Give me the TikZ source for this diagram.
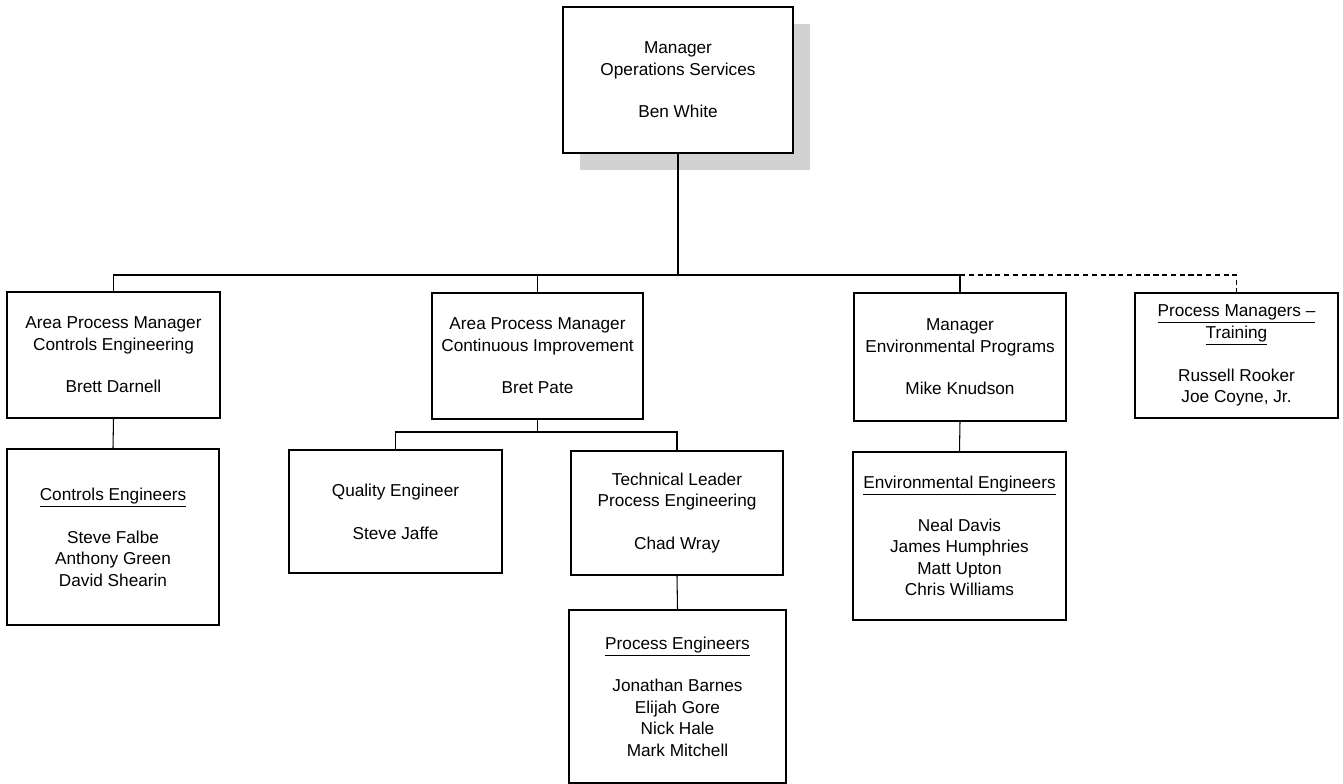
\documentclass[tikz,border=0pt]{standalone}
\usepackage{fontspec}
\setmainfont{Liberation Sans}
\usetikzlibrary{positioning}
\usetikzlibrary{shadows}

\begin{document}
\begin{tikzpicture}[x=0.02cm, y=-0.02cm,
				orgbox/.style 2 args={draw=black, line width=0.9pt, fill=white, align=center, inner sep=0pt,
					minimum width=#1*0.02cm, minimum height=#2*0.02cm, font=\fontsize{9.8}{12.2}\selectfont},
				bossshadow/.style={general shadow={shadow xshift=0.34cm, shadow yshift=-0.34cm, fill=gray!35}},
				link/.style={line width=0.6pt},
				]
				\useasboundingbox (0,0) rectangle (1343,784);
				%Nodes
				\node[orgbox={230}{146}, bossshadow] (mgr)      at (678,80)       {Manager\\Operations Services\\[12.2pt]Ben White};
				\node[orgbox={213}{126}]             (apmCtrl)  at (113.5,355)    {Area Process Manager\\Controls Engineering\\[12.2pt]Brett Darnell};
				\node[orgbox={211}{126}]             (apmCI)    at (537.5,356)    {Area Process Manager\\Continuous Improvement\\[12.2pt]Bret Pate};
				\node[orgbox={212}{128}]             (mgrEnv)   at (960,357)      {Manager\\Environmental Programs\\[12.2pt]Mike Knudson};
				\node[orgbox={203}{125}]             (pmTrain)  at (1236.5,355.5) {\underline{Process Managers --}\\\underline{Training}\\[12.2pt]Russell Rooker\\Joe Coyne, Jr.};
				\node[orgbox={212}{176}]             (ctrlEng)  at (113,537)      {\underline{Controls Engineers}\\[12.2pt]Steve Falbe\\Anthony Green\\David Shearin};
				\node[orgbox={213}{123}]             (qualEng)  at (395.5,511.5)  {Quality Engineer\\[12.2pt]Steve Jaffe};
				\node[orgbox={212}{124}]             (techLead) at (677,513)      {Technical Leader\\Process Engineering\\[12.2pt]Chad Wray};
				\node[orgbox={217}{173}]             (procEng)  at (677.5,696.5)  {\underline{Process Engineers}\\[12.2pt]Jonathan Barnes\\Elijah Gore\\Nick Hale\\Mark Mitchell};
				\node[orgbox={213}{168}]             (envEng)   at (959.5,536)    {\underline{Environmental Engineers}\\[12.2pt]Neal Davis\\James Humphries\\Matt Upton\\Chris Williams};

				%Lines
				\coordinate (bus)     at (678,275);
				\coordinate (busEnv)  at (960,275);
				\coordinate (ciSplit) at (537.5,432);

				\draw[link] (mgr.south) -- (bus);
				\draw[link] (bus) -| (apmCtrl.north);
				\draw[link] (bus) -| (apmCI.north);
				\draw[link] (bus) -| (mgrEnv.north);
				\draw[link, densely dashed] (busEnv) -| (pmTrain.north);

				\draw[link] (apmCtrl.south) -- (ctrlEng.north);
				\draw[link] (apmCI.south) -- (ciSplit);
				\draw[link] (ciSplit) -| (qualEng.north);
				\draw[link] (ciSplit) -| (techLead.north);
				\draw[link] (techLead.south) -- (procEng.north);
				\draw[link] (mgrEnv.south) -- (envEng.north);
\end{tikzpicture}
\end{document}
